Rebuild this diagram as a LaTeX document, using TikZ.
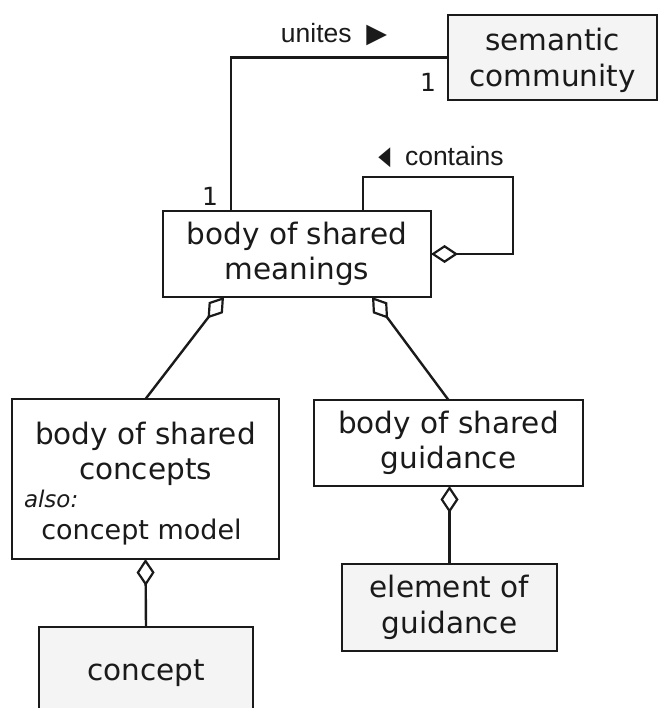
\documentclass[tikz,border=0pt]{standalone}
\usepackage{fontspec}
\setmainfont{DejaVu Sans}
\newfontfamily\lblfont{Liberation Sans}
\newfontfamily\symfont{DejaVu Sans}
\usetikzlibrary{arrows.meta}
\definecolor{boxgray}{HTML}{F4F4F4}
\definecolor{ink}{HTML}{1A1A1A}
\begin{document}
\begin{tikzpicture}[x=1pt,y=-1pt,
  every node/.style={inner sep=0pt, outer sep=0pt, text=ink},
  box/.style={draw=ink, line width=2.5pt, fill=white, align=center,
    font=\fontsize{29.5}{35.5}\selectfont},
  graybox/.style={box, fill=boxgray},
  boxtext/.style={align=center, font=\fontsize{29.5}{35.5}\selectfont},
  conn/.style={draw=ink, line width=2.4pt},
  agg/.style={conn, -{Diamond[open, length=27pt, width=18pt, line width=2.2pt]}},
  assoc/.style={font=\lblfont\fontsize{26.5}{30}\selectfont},
  mult/.style={font=\fontsize{25}{28}\selectfont}]
\useasboundingbox (0,0) rectangle (658,708);
% boxes
\node[graybox, minimum width=209pt, minimum height=85pt] (sc) at (552.5,57.5) {};
\node[boxtext] (sct) at (552.5,60.5) {semantic\\community};
\node[box, minimum width=268pt, minimum height=86pt] (bsm) at (297,254) {body of shared\\meanings};
\node[box, minimum width=267pt, minimum height=160pt] (bsc) at (145.5,479) {};
\node[boxtext] (bsct) at (145.5,454) {body of shared\\concepts};
\node[anchor=base west, font=\fontsize{23}{26}\selectfont\itshape] (also) at (24,507) {also:};
\node[anchor=base, font=\fontsize{27}{31}\selectfont] (cm) at (141.5,539) {concept model};
\node[graybox, minimum width=214pt, minimum height=100pt] (con) at (146,677) {};
\node[font=\fontsize{29.5}{35.5}\selectfont, anchor=base] (cont) at (146,680) {concept};
\node[box, minimum width=269pt, minimum height=86pt] (bsg) at (448.5,443) {body of shared\\guidance};
\node[graybox, minimum width=215pt, minimum height=87pt] (eog) at (449.5,607.5) {element of\\guidance};
% unites association
\draw[conn] (sc.west) -| ([xshift=-66pt]bsm.north);
\node[assoc] (unites) at (334,35) {unites\ \ {\symfont\fontsize{27}{30}\selectfont ▶}};
\node[mult] (m1) at (428,82) {1};
\node[mult] (m2) at (210,196) {1};
% contains self-aggregation
\coordinate (c1) at (513,177);
\draw[agg] ([xshift=66pt]bsm.north) |- (c1) |- (bsm.east);
\node[assoc] (contains) at (441,157) {{\symfont\fontsize{26}{28}\selectfont\raisebox{1pt}{\scalebox{0.6}[1]{◀}}}\ \ contains};
% aggregations
\draw[agg] (bsc.north) -- ([xshift=-73pt]bsm.south);
\draw[agg] (bsg.north) -- ([xshift=75pt]bsm.south);
\draw[agg] (con.north) -- (bsc.south);
\draw[agg] (eog.north) -- (eog.north |- bsg.south);
\end{tikzpicture}
\end{document}
